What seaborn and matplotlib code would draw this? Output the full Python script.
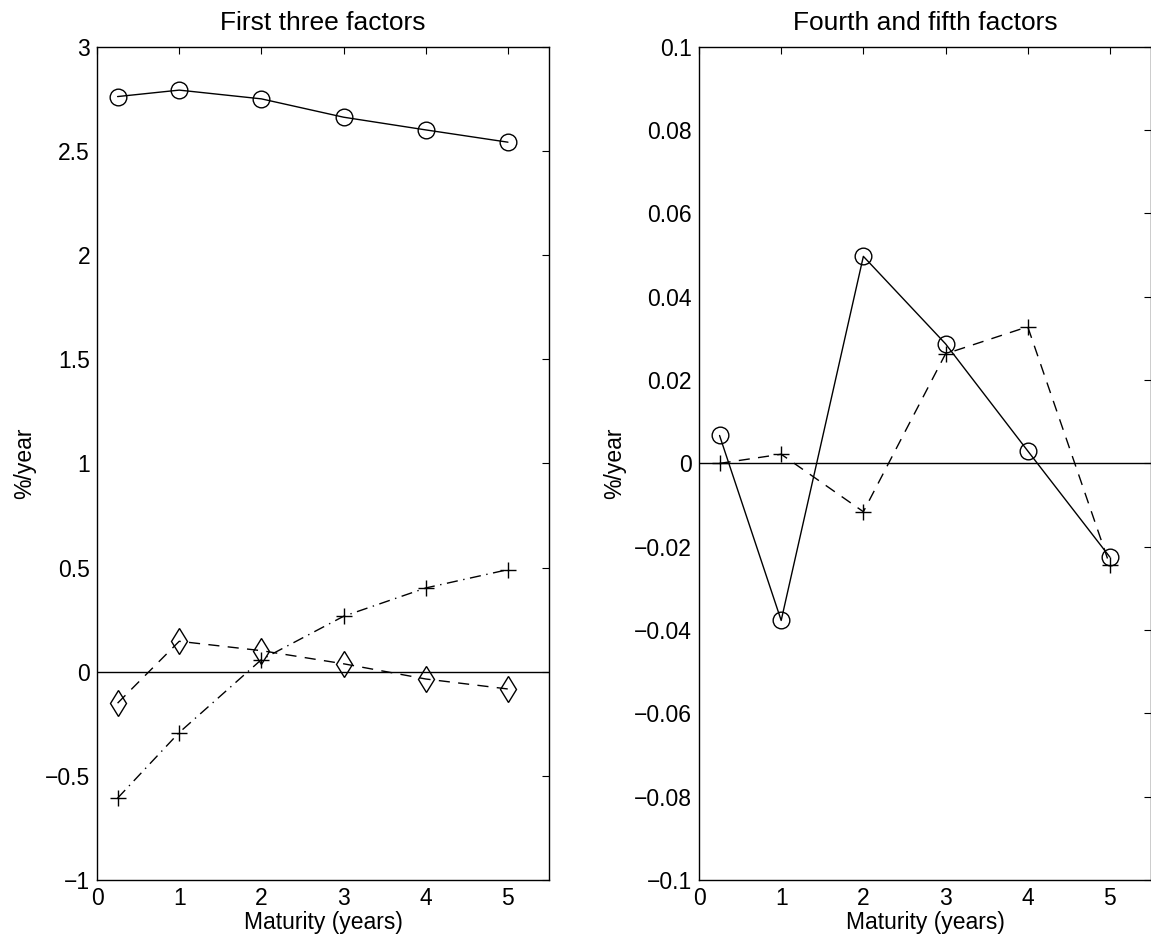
import matplotlib
matplotlib.use('Agg')
import matplotlib.pyplot as plt
import seaborn as sns

# maturities (years)
maturity = [0.25, 1, 2, 3, 4, 5]

# first three factors (%/year)
factor1 = [2.761, 2.792, 2.750, 2.662, 2.601, 2.542]
factor2 = [-0.607, -0.292, 0.058, 0.266, 0.402, 0.490]
factor3 = [-0.151, 0.146, 0.101, 0.038, -0.035, -0.083]

# fourth and fifth factors (%/year)
factor4 = [0.0067, -0.0377, 0.0497, 0.0287, 0.0030, -0.0225]
factor5 = [0.0000, 0.0022, -0.0116, 0.0263, 0.0328, -0.0245]

sns.set_style('white')
plt.rcParams['font.family'] = ['Liberation Sans', 'DejaVu Sans']
plt.rcParams['text.color'] = 'k'
plt.rcParams['axes.labelcolor'] = 'k'
plt.rcParams['xtick.color'] = 'k'
plt.rcParams['ytick.color'] = 'k'

fig = plt.figure(figsize=(11.51, 9.49), dpi=100)
ax1 = fig.add_axes([0.0843, 0.0727, 0.3927, 0.878])
ax2 = fig.add_axes([0.6073, 0.0727, 0.3927, 0.878])

mk = dict(color='k', mfc='none', mec='k', mew=1.0, lw=1.0)

# left panel
sns.lineplot(x=maturity, y=factor1, ax=ax1, marker='o', ms=12, **mk)
sns.lineplot(x=maturity, y=factor2, ax=ax1, marker='+', ms=12, linestyle=(0, (8, 4, 1, 4)), **mk)
sns.lineplot(x=maturity, y=factor3, ax=ax1, marker='d', ms=13, linestyle=(0, (8, 6)), **mk)
ax1.axhline(0, color='k', lw=1.0)
ax1.set_xlim(0, 5.5)
ax1.set_ylim(-1, 3)
ax1.set_xticks([0, 1, 2, 3, 4, 5])
ax1.set_yticks([-1, -0.5, 0, 0.5, 1, 1.5, 2, 2.5, 3])
ax1.set_yticklabels(['\u22121', '\u22120.5', '0', '0.5', '1', '1.5', '2', '2.5', '3'])
ax1.set_title('First three factors', fontsize=19, pad=12)

# right panel
sns.lineplot(x=maturity, y=factor4, ax=ax2, marker='o', ms=12, **mk)
sns.lineplot(x=maturity, y=factor5, ax=ax2, marker='+', ms=12, linestyle=(0, (8, 6)), **mk)
ax2.axhline(0, color='k', lw=1.0)
ax2.set_xlim(0, 5.5)
ax2.set_ylim(-0.1, 0.1)
ax2.set_xticks([0, 1, 2, 3, 4, 5])
yt = [-0.1, -0.08, -0.06, -0.04, -0.02, 0, 0.02, 0.04, 0.06, 0.08, 0.1]
ax2.set_yticks(yt)
ax2.set_yticklabels([('%g' % v).replace('-', '\u2212') for v in yt])
ax2.set_title('Fourth and fifth factors', fontsize=19, pad=12)

for ax in (ax1, ax2):
    ax.set_xlabel('Maturity (years)', fontsize=16.5, labelpad=1)
    ax.set_ylabel('%/year', fontsize=16.5, labelpad=6)
    ax.tick_params(labelsize=16.5, length=5, width=0.8, top=True, right=True,
                   direction='in', pad=5)
    for s in ax.spines.values():
        s.set_visible(True)
        s.set_color('k')
        s.set_linewidth(1.0)

fig.savefig('out.png', dpi=100)
